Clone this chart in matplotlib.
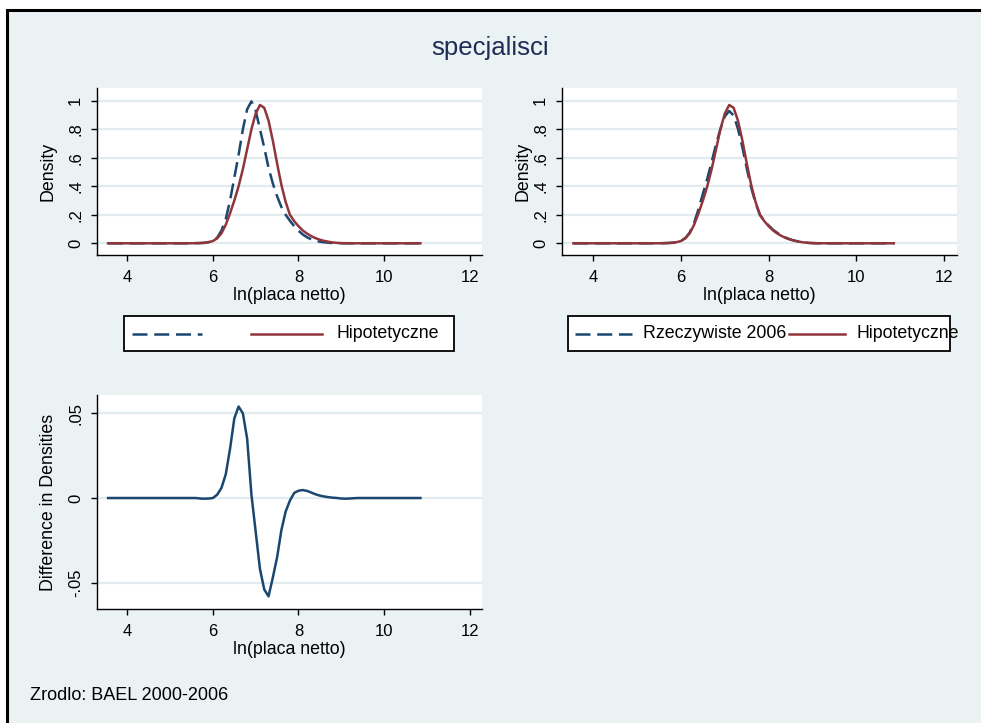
import matplotlib
matplotlib.use("Agg")
import matplotlib.pyplot as plt
from matplotlib.patches import Rectangle
from matplotlib.lines import Line2D

plt.rcParams['font.family'] = ['Liberation Sans', 'DejaVu Sans']

# ---- data: kernel density estimates of ln(net wage) ----
x_grid = [3.55, 4.0, 4.5, 5.0,
          5.5, 5.6, 5.7, 5.8, 5.9, 6.0, 6.1, 6.2, 6.3, 6.4,
          6.5, 6.6, 6.7, 6.8, 6.9, 7.0, 7.1, 7.2, 7.3, 7.4,
          7.5, 7.6, 7.7, 7.8, 7.9, 8.0, 8.1, 8.2, 8.3, 8.4,
          8.5, 8.6, 8.7, 8.8, 8.9, 9.0, 9.1, 9.2, 9.3, 9.4,
          9.6, 10.0, 10.5, 10.85]

# counterfactual density (Hipotetyczne)
dens_hipotetyczne = [0, 0, 0, 0,
                     0.0003, 0.001, 0.002, 0.004, 0.008, 0.016, 0.035, 0.07, 0.13, 0.21,
                     0.30, 0.40, 0.52, 0.66, 0.80, 0.91, 0.97, 0.95, 0.86, 0.72,
                     0.56, 0.41, 0.29, 0.20, 0.155, 0.12, 0.09, 0.068, 0.05, 0.036,
                     0.025, 0.017, 0.011, 0.006, 0.003, 0.0015, 0.0008, 0.0004, 0.0002, 0.0001,
                     0, 0, 0, 0]

# base-year density (left panel, unlabelled in its legend)
dens_bazowe = [0, 0, 0, 0,
               0.0003, 0.0008, 0.0015, 0.003, 0.008, 0.018, 0.04, 0.09, 0.17, 0.30,
               0.46, 0.62, 0.80, 0.94, 0.995, 0.93, 0.80, 0.67, 0.53, 0.42,
               0.33, 0.255, 0.20, 0.158, 0.12, 0.088, 0.062, 0.042, 0.028, 0.018,
               0.011, 0.007, 0.004, 0.002, 0.001, 0.0005, 0.0002, 0.0001, 0, 0,
               0, 0, 0, 0]

# actual 2006 density (Rzeczywiste 2006)
dens_rzeczywiste_2006 = [0, 0, 0, 0,
                         0.0003, 0.001, 0.0017, 0.0036, 0.0077, 0.016, 0.037, 0.076, 0.144, 0.239,
                         0.347, 0.454, 0.570, 0.695, 0.802, 0.89, 0.928, 0.896, 0.802, 0.673,
                         0.525, 0.391, 0.282, 0.1985, 0.158, 0.1243, 0.0947, 0.0722, 0.0532, 0.0382,
                         0.0264, 0.0179, 0.0115, 0.0062, 0.003, 0.0012, 0.0004, 0.0001, 0.0001, 0.0001,
                         0, 0, 0, 0]

# difference in densities (actual 2006 minus counterfactual)
dens_roznica = [0, 0, 0, 0,
                0, 0, -0.0003, -0.0004, -0.0003, 0.0, 0.002, 0.006, 0.014, 0.029,
                0.047, 0.054, 0.050, 0.035, 0.002, -0.020, -0.042, -0.054, -0.058, -0.047,
                -0.035, -0.019, -0.008, -0.0015, 0.003, 0.0043, 0.0047, 0.0042, 0.0032, 0.0022,
                0.0014, 0.0009, 0.0005, 0.0002, 0.0, -0.0003, -0.0004, -0.0003, -0.0001, 0.0,
                0, 0, 0, 0]

x_ticks = [4, 6, 8, 10, 12]
x_tick_labels = ['4', '6', '8', '10', '12']
dens_ticks = [0, 0.2, 0.4, 0.6, 0.8, 1.0]
dens_tick_labels = ['0', '.2', '.4', '.6', '.8', '1']
diff_ticks = [-0.05, 0, 0.05]
diff_tick_labels = ['-.05', '0', '.05']

title = 'specjalisci'
xlabel = 'ln(placa netto)'
note = 'Zrodlo: BAEL 2000-2006'

# ---- styling ----
W, H = 981, 723
BG = '#EAF2F3'
GRID = '#E2EBEE'
NAVY = '#1A476F'
MAROON = '#90353B'
LW = 1.8
DASH = (6, 2.7)

fig = plt.figure(figsize=(W / 100, H / 100), dpi=100)
fig.patch.set_facecolor('white')


def fx(px):
    return px / W


def fy(py):
    return 1 - py / H


# outer graph region with black frame on top/left
fig.patches.append(Rectangle((fx(7), fy(740)), fx(1000), fy(10) - fy(740),
                             transform=fig.transFigure, facecolor=BG,
                             edgecolor='black', linewidth=2.2, zorder=-10))


def make_axes(left, right, top, bottom):
    ax = fig.add_axes([fx(left), fy(bottom), fx(right) - fx(left), fy(top) - fy(bottom)])
    ax.set_zorder(2)
    ax.set_facecolor('white')
    for s in ('top', 'right'):
        ax.spines[s].set_visible(False)
    for s in ('left', 'bottom'):
        ax.spines[s].set_color('black')
        ax.spines[s].set_linewidth(1.0)
    ax.tick_params(axis='both', length=4, width=1.0, color='black',
                   labelsize=12, labelcolor='black', pad=6)
    ax.yaxis.grid(True, color=GRID, linewidth=1.6)
    ax.set_axisbelow(True)
    ax.set_xlim(3.29, 12.29)
    ax.set_xticks(x_ticks)
    ax.set_xticklabels(x_tick_labels)
    ax.tick_params(axis='x', pad=7)
    ax.set_xlabel(xlabel, fontsize=12.8, labelpad=1.5)
    return ax


def density_yaxis(ax, label_x):
    ax.set_ylim(-0.082, 1.089)
    ax.set_yticks(dens_ticks)
    ax.set_yticklabels(dens_tick_labels, rotation=90, va='center')
    ax.set_ylabel('Density', fontsize=12.8)
    ax.yaxis.set_label_coords(label_x, 0.5)


# top-left panel
ax1 = make_axes(97, 482, 88, 255)
density_yaxis(ax1, -0.105)
ax1.plot(x_grid, dens_bazowe, color=NAVY, lw=LW, dashes=DASH)
ax1.plot(x_grid, dens_hipotetyczne, color=MAROON, lw=LW)

# top-right panel
ax2 = make_axes(562, 957, 88, 255)
density_yaxis(ax2, -0.078)
ax2.plot(x_grid, dens_rzeczywiste_2006, color=NAVY, lw=LW, dashes=DASH)
ax2.plot(x_grid, dens_hipotetyczne, color=MAROON, lw=LW)

# bottom panel: difference
ax3 = make_axes(97, 482, 395, 609)
ax3.set_ylim(-0.0655, 0.0608)
ax3.set_yticks(diff_ticks)
ax3.set_yticklabels(diff_tick_labels, rotation=90, va='center')
ax3.set_ylabel('Difference in Densities', fontsize=12.8)
ax3.yaxis.set_label_coords(-0.105, 0.5)
ax3.plot(x_grid, dens_roznica, color=NAVY, lw=LW)


# legends drawn as boxed keys under the top panels
def legend_box(x0, x1, y0, y1, entries):
    fig.patches.append(Rectangle((fx(x0), fy(y1)), fx(x1) - fx(x0), fy(y0) - fy(y1),
                                 transform=fig.transFigure, facecolor='white',
                                 edgecolor='black', linewidth=1.3, zorder=1))
    yc = fy((y0 + y1) / 2)
    for (lx0, lx1, color, dashed, label, tx) in entries:
        kw = dict(dashes=DASH) if dashed else {}
        fig.lines.append(Line2D([fx(lx0), fx(lx1)], [yc, yc], transform=fig.transFigure,
                                color=color, lw=LW, zorder=2, **kw))
        if label:
            fig.text(fx(tx), yc, label, fontsize=12.8, va='center', ha='left', zorder=3)


legend_box(124, 454, 316, 351, [
    (132, 202, NAVY, True, '', 0),
    (251, 322, MAROON, False, 'Hipotetyczne', 337),
])
legend_box(568, 950, 316, 351, [
    (575, 632, NAVY, True, 'Rzeczywiste 2006', 643),
    (789, 845, MAROON, False, 'Hipotetyczne', 857),
])

fig.text(fx(490), fy(48), title, fontsize=18.5, color='#1C2D56', ha='center', va='center')
fig.text(fx(30), fy(695), note, fontsize=13, ha='left', va='center')

fig.savefig('out.png', dpi=100, facecolor=fig.get_facecolor())
